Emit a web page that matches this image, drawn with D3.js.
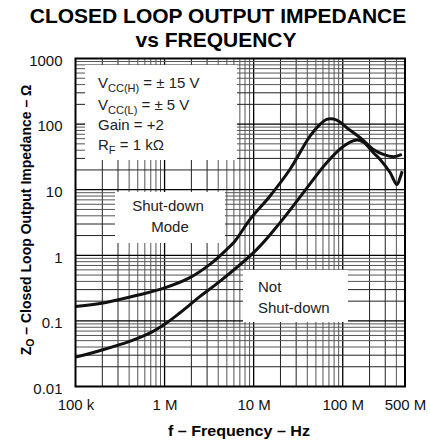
<!DOCTYPE html>
<html><head><meta charset="utf-8">
<script src="https://cdn.jsdelivr.net/npm/d3@7"></script>
<style>
html,body{margin:0;padding:0;background:#fff;}
svg{display:block;font-family:"Liberation Sans",Arial,Helvetica,sans-serif;}
</style></head>
<body><svg id="c" width="430" height="444"></svg>
<script>
// ---- data ----
const freqShutdown = [1e5, 2.2e5, 5.25e5, 1e6, 1.9e6, 3.2e6, 4.96e6, 6.15e6, 9.06e6, 1.52e7, 2.55e7, 4.29e7, 5.56e7, 6.6e7, 8.57e7, 1.11e8, 1.57e8, 2.21e8, 2.86e8, 3.7e8, 4.61e8];
const zShutdown    = [0.166, 0.191, 0.251, 0.318, 0.452, 0.72, 1.22, 1.64, 3.5, 7.96, 20.3, 65.6, 99, 118, 115, 88, 62, 41, 34.5, 31.8, 34.5];
const freqNotShutdown = [1e5, 2.03e5, 4.05e5, 6.8e5, 1.05e6, 1.48e6, 2.48e6, 4.17e6, 1.08e7, 1.97e7, 3.6e7, 6.6e7, 1.02e8, 1.44e8, 1.71e8, 2.21e8, 2.63e8, 3.4e8, 4.05e8, 4.41e8, 4.65e8];
const zNotShutdown    = [0.028, 0.0363, 0.0487, 0.065, 0.093, 0.132, 0.234, 0.40, 1.22, 3.12, 8.97, 25.8, 46, 57, 53, 36.6, 28.9, 18.3, 12, 15.3, 19.1];
const xTickValues = [1e5, 1e6, 1e7, 1e8, 5e8];
const xTickLabels = ["100 k", "1 M", "10 M", "100 M", "500 M"];
const yTickValues = [0.01, 0.1, 1, 10, 100, 1000];
const yTickLabels = ["0.01", "0.1", "1", "10", "100", "1000"];

const svg = d3.select("#c");
const L = 75.5, R = 405, T = 58.5, B = 386.5;
const x = d3.scaleLog().domain([1e5, 5e8]).range([L, R]);
const y = d3.scaleLog().domain([0.01, 1000]).range([B, T]);

// gridlines
const gx = [], gy = [];
for (let d = 1e5; d < 5e8; d *= 10) for (let m = 1; m <= 9; m++) { const v = d * m; if (v > 1e5 && v < 5e8) gx.push({v, m}); }
for (let d = 0.01; d < 1000; d *= 10) for (let m = 1; m <= 9; m++) { const v = d * m; if (v > 0.0100001 && v < 999.9) gy.push({v, m}); }
const col = m => m === 1 ? "#000" : (m <= 3 ? "#222" : "#555");
const grid = svg.append("g");
grid.selectAll("line.vx").data(gx).join("line")
  .attr("x1", d => x(d.v)).attr("x2", d => x(d.v)).attr("y1", T).attr("y2", B)
  .attr("stroke", d => col(d.m)).attr("stroke-width", d => d.m === 1 ? 1.3 : 1);
grid.selectAll("line.hy").data(gy).join("line")
  .attr("y1", d => y(d.v)).attr("y2", d => y(d.v)).attr("x1", L).attr("x2", R)
  .attr("stroke", d => col(d.m)).attr("stroke-width", d => d.m === 1 ? 1.3 : 1);

// white label boxes
const boxes = [[85, 65, 237, 160], [115, 192, 225, 243], [243, 270, 348, 322]];
svg.append("g").selectAll("rect").data(boxes).join("rect")
  .attr("x", d => d[0]).attr("y", d => d[1]).attr("width", d => d[2] - d[0]).attr("height", d => d[3] - d[1])
  .attr("fill", "#fff");

// curves
const line = d3.line().x(d => x(d[0])).y(d => y(d[1])).curve(d3.curveCatmullRom.alpha(0.5));
const s1 = freqShutdown.map((f, i) => [f, zShutdown[i]]);
const s2 = freqNotShutdown.map((f, i) => [f, zNotShutdown[i]]);
svg.append("path").attr("d", line(s1)).attr("fill", "none").attr("stroke", "#111").attr("stroke-width", 3).attr("stroke-linejoin", "round");
svg.append("path").attr("d", line(s2)).attr("fill", "none").attr("stroke", "#111").attr("stroke-width", 3).attr("stroke-linejoin", "round");

// frame
svg.append("rect").attr("x", L).attr("y", T).attr("width", R - L).attr("height", B - T)
  .attr("fill", "none").attr("stroke", "#000").attr("stroke-width", 2);

// axes (labels only)
const xa = svg.append("g").attr("transform", `translate(0,${B + 10})`)
  .call(d3.axisBottom(x).tickValues(xTickValues).tickFormat((d, i) => xTickLabels[i]).tickSize(0));
xa.select(".domain").remove();
xa.selectAll("text").attr("font-size", 15).attr("font-family", "Liberation Sans, Arial, sans-serif").attr("fill", "#111");
const ya = svg.append("g").attr("transform", `translate(${L - 10},2)`)
  .call(d3.axisLeft(y).tickValues(yTickValues).tickFormat((d, i) => yTickLabels[i]).tickSize(0));
ya.select(".domain").remove();
ya.selectAll("text").attr("font-size", 15).attr("font-family", "Liberation Sans, Arial, sans-serif").attr("fill", "#111").attr("dx", 0);

// title
svg.append("text").attr("x", 218).attr("y", 23).attr("text-anchor", "middle")
  .attr("font-size", 21).attr("font-weight", "bold").text("CLOSED LOOP OUTPUT IMPEDANCE");
svg.append("text").attr("x", 216).attr("y", 46.5).attr("text-anchor", "middle")
  .attr("font-size", 21).attr("font-weight", "bold").text("vs FREQUENCY");

// axis titles
svg.append("text").attr("x", 239).attr("y", 436).attr("text-anchor", "middle")
  .attr("font-size", 14.5).attr("font-weight", "bold").attr("textLength", 142).attr("lengthAdjust", "spacingAndGlyphs").text("f – Frequency – Hz");
const yt = svg.append("text").attr("transform", "translate(31,220) rotate(-90)").attr("text-anchor", "middle")
  .attr("font-size", 14).attr("font-weight", "bold");
yt.append("tspan").text("Z");
yt.append("tspan").attr("font-size", 10.5).attr("dy", 3).text("O");
yt.append("tspan").attr("dy", -3).text(" – Closed Loop Output Impedance – Ω");

// box texts
function sub(t, main, s, rest) {
  t.append("tspan").text(main);
  t.append("tspan").attr("font-size", 11).attr("dy", 4).text(s);
  t.append("tspan").attr("dy", -4).text(rest);
}
const fs = 15;
sub(svg.append("text").attr("x", 98).attr("y", 88).attr("font-size", fs).attr("fill", "#222"), "V", "CC(H)", " = ± 15 V");
sub(svg.append("text").attr("x", 98).attr("y", 110).attr("font-size", fs).attr("fill", "#222"), "V", "CC(L)", " = ± 5 V");
svg.append("text").attr("x", 98).attr("y", 130).attr("font-size", fs).attr("fill", "#222").text("Gain = +2");
sub(svg.append("text").attr("x", 98).attr("y", 150).attr("font-size", fs).attr("fill", "#222"), "R", "F", " = 1 kΩ");
svg.append("text").attr("x", 168).attr("y", 211).attr("text-anchor", "middle").attr("font-size", fs).attr("fill", "#222").text("Shut-down");
svg.append("text").attr("x", 170).attr("y", 232).attr("text-anchor", "middle").attr("font-size", fs).attr("fill", "#222").text("Mode");
svg.append("text").attr("x", 258).attr("y", 292).attr("font-size", fs).attr("fill", "#222").text("Not");
svg.append("text").attr("x", 258).attr("y", 313).attr("font-size", fs).attr("fill", "#222").text("Shut-down");
</script></body></html>
